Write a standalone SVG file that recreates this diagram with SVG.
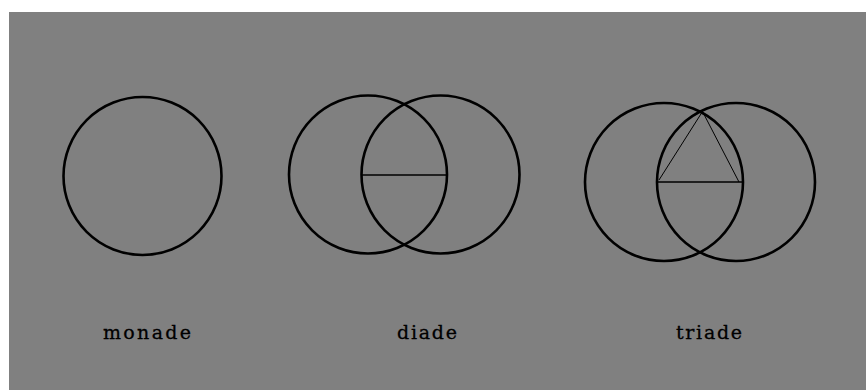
<svg xmlns="http://www.w3.org/2000/svg" width="866" height="390" viewBox="0 0 866 390">
  <style>
    .c { fill: none; stroke: #000; stroke-width: 2.6; }
    .l { fill: none; stroke: #000; stroke-width: 1.4; }
    .t { stroke: #000; stroke-width: 1; fill: none; }
    .lbl { font-family: "DejaVu Serif", "Liberation Serif", serif; font-size: 19px; fill: #000; stroke: #000; stroke-width: 0.3; }
  </style>
  <rect x="0" y="0" width="866" height="390" fill="#ffffff"/>
  <rect x="9" y="12" width="857" height="378" fill="#808080"/>
  <g id="monade">
    <circle class="c" cx="142.5" cy="176" r="79"/>
    <text class="lbl" x="103" y="339" textLength="88" lengthAdjust="spacing">monade</text>
  </g>
  <g id="diade">
    <circle class="c" cx="368" cy="174.5" r="79"/>
    <circle class="c" cx="440.5" cy="174.5" r="79"/>
    <text class="lbl" x="397" y="339" textLength="60" lengthAdjust="spacing">diade</text>
  </g>
  <g id="triade">
    <circle class="c" cx="664" cy="182" r="79"/>
    <circle class="c" cx="736" cy="182" r="79"/>
    <text class="lbl" x="676" y="339" textLength="66" lengthAdjust="spacing">triade</text>
  </g>
  <g id="connectors">
    <line class="l" x1="361" y1="175" x2="446.5" y2="175"/>
    <line class="l" x1="657.5" y1="182" x2="743" y2="182"/>
    <polyline class="t" points="659,180 702.5,111.5 739,182"/>
  </g>
</svg>
